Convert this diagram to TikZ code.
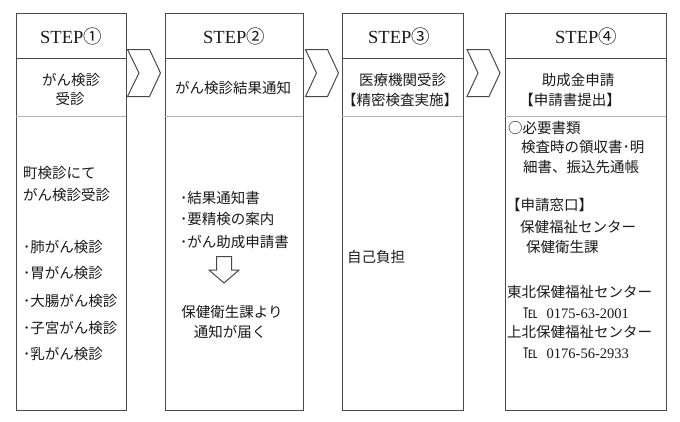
\documentclass[tikz,border=0pt]{standalone}
\usepackage{fontspec}
\setmainfont{Noto Sans CJK JP}
\newfontfamily\serifen{Liberation Serif}
\newfontfamily\cjkf{Noto Sans CJK JP}
\definecolor{linec}{HTML}{4A4A4A}
\definecolor{lightc}{HTML}{B4B4B4}
\definecolor{textc}{HTML}{1A1A1A}
\tikzset{
  col/.style={draw=linec, line width=1.1pt, fill=white, inner sep=0pt, anchor=north west},
  divd/.style={draw=linec, line width=1pt},
  divl/.style={draw=lightc, line width=1pt},
  chev/.style={draw=linec, line width=1pt, line join=miter},
  jt/.style={font=\fontsize{14.5}{17}\selectfont, text=textc, inner sep=0pt, text height=12.8pt, text depth=1.7pt},
  jl/.style={jt, anchor=west},
  steptxt/.style={font=\fontsize{18.5}{22}\selectfont\serifen, text=textc, inner sep=0pt}
}
\begin{document}
\begin{tikzpicture}[x=1pt,y=-1pt]
\useasboundingbox (0,0) rectangle (680,421);
% columns
\node[col, minimum width=110pt, minimum height=397pt] (c1) at (16,13) {};
\node[col, minimum width=138pt, minimum height=397pt] (c2) at (165,13) {};
\node[col, minimum width=121pt, minimum height=397pt] (c3) at (342,13) {};
\node[col, minimum width=161pt, minimum height=397pt] (c4) at (505,13) {};
% dividers
\draw[divd] (16,58) -- (126,58);
\draw[divd] (165,58) -- (303,58);
\draw[divd] (342,58) -- (463,58);
\draw[divd] (505,58) -- (666,58);
\draw[divl] (16,116) -- (126,116);
\draw[divl] (165,116) -- (303,116);
\draw[divl] (342,116) -- (463,116);
\draw[divl] (505,116) -- (666,116);
% chevrons
\draw[chev] (127.5,49.5) -- (149.5,49.5) -- (160.5,73) -- (149.5,96.5) -- (127.5,96.5) -- (139,73) -- cycle;
\draw[chev] (305.5,49.5) -- (327.5,49.5) -- (338.5,73) -- (327.5,96.5) -- (305.5,96.5) -- (316.5,73) -- cycle;
\draw[chev] (467,49.5) -- (489,49.5) -- (500,73) -- (489,96.5) -- (467,96.5) -- (478,73) -- cycle;
% headers
\node[steptxt] (s1) at (71,36) {STEP{\cjkf ①}};
\node[steptxt] (s2) at (234,36) {STEP{\cjkf ②}};
\node[steptxt] (s3) at (399,36) {STEP{\cjkf ③}};
\node[steptxt] (s4) at (586,36) {STEP{\cjkf ④}};
\node[jt] (h1a) at (71,80) {がん検診};
\node[jt] (h1b) at (70,99) {受診};
\node[jt] (h2) at (233,88) {がん検診結果通知};
\node[jt] (h3a) at (402.5,80) {医療機関受診};
\node[jt] (h3b) at (400,100) {【精密検査実施】};
\node[jt] (h4a) at (578,80) {助成金申請};
\node[jt] (h4b) at (570,100) {【申請書提出】};
% column 1 body
\node[jl] (b1a) at (23,173) {町検診にて};
\node[jl] (b1b) at (23,195) {がん検診受診};
\node[jl] (b1c) at (23,247) {･肺がん検診};
\node[jl] (b1d) at (23,273) {･胃がん検診};
\node[jl] (b1e) at (23,301) {･大腸がん検診};
\node[jl] (b1f) at (23,328) {･子宮がん検診};
\node[jl] (b1g) at (23,354) {･乳がん検診};
% column 2 body
\node[jl] (b2a) at (180,198) {･結果通知書};
\node[jl] (b2b) at (180,219) {･要精検の案内};
\node[jl] (b2c) at (180,242) {･がん助成申請書};
\draw[chev] (216.5,256.5) -- (231.5,256.5) -- (231.5,270) -- (239,270) -- (224,283) -- (209,270) -- (216.5,270) -- cycle;
\node[jt] (b2d) at (232,312) {保健衛生課より};
\node[jt] (b2e) at (230,332) {通知が届く};
% column 3 body
\node[jl] (b3a) at (347,257) {自己負担};
% column 4 body
\node[jl] (b4a) at (508,128) {○必要書類};
\node[jl] (b4b) at (521,147) {検査時の領収書･明};
\node[jl] (b4c) at (523,167) {細書、振込先通帳};
\node[jl] (b4d) at (506,205) {【申請窓口】};
\node[jl] (b4e) at (520,227) {保健福祉センター};
\node[jl] (b4f) at (526,247) {保健衛生課};
\node[jl] (b4g) at (507,292) {東北保健福祉センター};
\node[jl] (b4h) at (523,313) {℡\hspace{9pt}{\serifen\fontsize{14.5}{17}\selectfont 0175-63-2001}};
\node[jl] (b4i) at (507,332) {上北保健福祉センター};
\node[jl] (b4j) at (523,353) {℡\hspace{9pt}{\serifen\fontsize{14.5}{17}\selectfont 0176-56-2933}};
\end{tikzpicture}
\end{document}
